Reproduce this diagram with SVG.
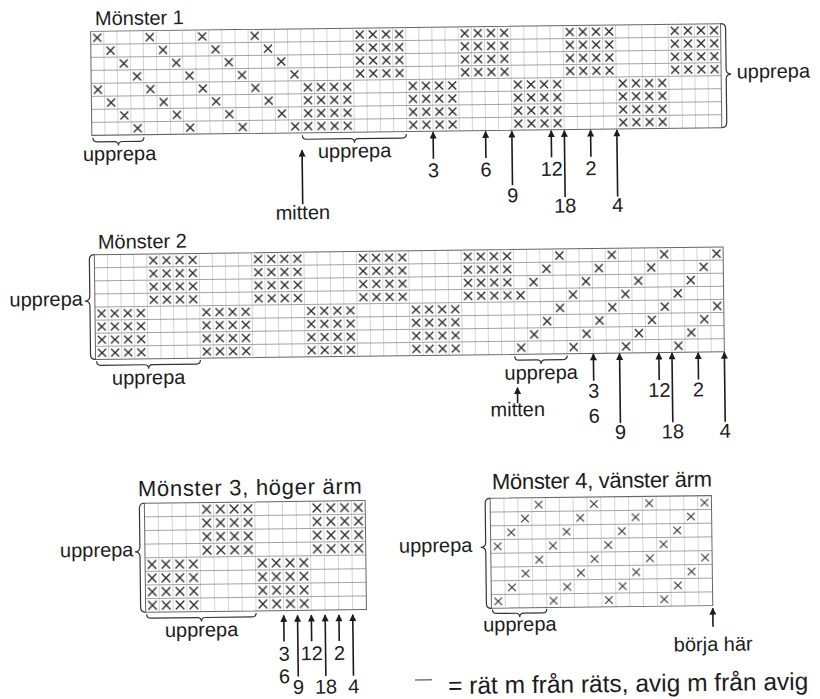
<svg xmlns="http://www.w3.org/2000/svg" width="820" height="699" viewBox="0 0 820 699">
<style>
text{font-family:"Liberation Sans",Arial,Helvetica,sans-serif;fill:#1c1c1c}
.lb{font-size:20px}
.num{font-size:20px;text-anchor:middle}
.mid{text-anchor:middle}
.end{text-anchor:end}
.gv{stroke:#c2c2c2;stroke-width:0.7;fill:none}
.gh{stroke:#8c8c8c;stroke-width:0.8;fill:none}
.gb{fill:none;stroke:#666;stroke-width:1}
.xm{stroke:#262626;stroke-width:1.3;fill:none}
.xt{stroke:#333;stroke-width:1.1;fill:none}
.br{fill:none;stroke:#333;stroke-width:1.2}
.ar{stroke:#1c1c1c;stroke-width:1.6;fill:none;marker-end:url(#ah)}
</style>
<defs>
<marker id="ah" viewBox="0 0 10 10" refX="9" refY="5" markerUnits="userSpaceOnUse" markerWidth="10" markerHeight="7" orient="auto"><path d="M0,0L10,5L0,10z" fill="#1c1c1c"/></marker>
<pattern id="x1" patternUnits="userSpaceOnUse" width="13.125" height="13"><path class="xm" d="M2.56 2.5l8 8m0-8l-8 8"/></pattern>
<pattern id="d1" patternUnits="userSpaceOnUse" width="52.5" height="52"><path class="xm" d="M2.56 2.5l8 8m0-8l-8 8M15.69 15.5l8 8m0-8l-8 8M28.81 28.5l8 8m0-8l-8 8M41.94 41.5l8 8m0-8l-8 8"/></pattern>
<pattern id="x2" patternUnits="userSpaceOnUse" width="13.1" height="13.1"><path class="xm" d="M2.55 2.55l8 8m0-8l-8 8"/></pattern>
<pattern id="d2" patternUnits="userSpaceOnUse" width="52.4" height="52.4"><path class="xm" d="M41.85 2.55l8 8m0-8l-8 8M28.75 15.65l8 8m0-8l-8 8M15.65 28.75l8 8m0-8l-8 8M2.55 41.85l8 8m0-8l-8 8"/></pattern>
<pattern id="x3" patternUnits="userSpaceOnUse" width="13.8" height="13.625"><path class="xm" d="M2.6 2.51l8.6 8.6m0-8.6l-8.6 8.6"/></pattern>
<pattern id="d4" patternUnits="userSpaceOnUse" width="55.32" height="55"><path class="xt" d="M44.6 3.08l7.6 7.6m0-7.6l-7.6 7.6M30.78 16.83l7.6 7.6m0-7.6l-7.6 7.6M16.95 30.58l7.6 7.6m0-7.6l-7.6 7.6M3.12 44.33l7.6 7.6m0-7.6l-7.6 7.6"/></pattern>
</defs>
<rect width="820" height="699" fill="#fff"/>
<g transform="rotate(-0.7 410 350)">

<g id="monster1">
<text x="99" y="21.5" style="font-size:20px">Mönster 1</text>
<g transform="translate(94.5 27.5)">
<path class="gv" d="M13.125 0v104M26.25 0v104M39.375 0v104M52.5 0v104M65.625 0v104M78.75 0v104M91.875 0v104M105 0v104M118.125 0v104M131.25 0v104M144.375 0v104M157.5 0v104M170.625 0v104M183.75 0v104M196.875 0v104M210 0v104M223.125 0v104M236.25 0v104M249.375 0v104M262.5 0v104M275.625 0v104M288.75 0v104M301.875 0v104M315 0v104M328.125 0v104M341.25 0v104M354.375 0v104M367.5 0v104M380.625 0v104M393.75 0v104M406.875 0v104M420 0v104M433.125 0v104M446.25 0v104M459.375 0v104M472.5 0v104M485.625 0v104M498.75 0v104M511.875 0v104M525 0v104M538.125 0v104M551.25 0v104M564.375 0v104M577.5 0v104M590.625 0v104M603.75 0v104M616.875 0v104"/>
<path class="gh" d="M0 13h630M0 26h630M0 39h630M0 52h630M0 65h630M0 78h630M0 91h630"/>
<rect class="gb" x="0" y="0" width="630" height="104"/>
<rect x="0" y="0" width="210" height="104" fill="url(#d1)"/>
<g fill="url(#x1)">
<rect x="262.5" y="0" width="52.5" height="52"/><rect x="367.5" y="0" width="52.5" height="52"/><rect x="472.5" y="0" width="52.5" height="52"/><rect x="577.5" y="0" width="52.5" height="52"/>
<rect x="210" y="52" width="52.5" height="52"/><rect x="315" y="52" width="52.5" height="52"/><rect x="420" y="52" width="52.5" height="52"/><rect x="525" y="52" width="52.5" height="52"/>
</g>
</g>
<path class="br" d="M724.5,27.5 Q729.5,27.5 729.5,32.5 L729.5,73 Q729.5,78 734.5,78 Q729.5,78 729.5,83 L729.5,126.5 Q729.5,131.5 724.5,131.5"/>
<text class="lb" x="740" y="82.5">upprepa</text>
<path class="br" d="M95.5,134 Q95.5,138 99.5,138 L117,138 Q121,138 121,142 Q121,138 125,138 L142.5,138 Q146.5,138 146.5,134"/>
<text class="lb mid" x="122" y="157">upprepa</text>
<path class="br" d="M305,134 Q305,138 309,138 L353,138 Q357,138 357,142 Q357,138 361,138 L405,138 Q409,138 409,134"/>
<text class="lb mid" x="357" y="157">upprepa</text>
<text class="lb mid" x="304.5" y="218">mitten</text>
<text class="num" x="435.75" y="177.5">3</text>
<text class="num" x="488.25" y="177.5">6</text>
<text class="num" x="514.5" y="203.5">9</text>
<text class="num" x="553.9" y="177.5">12</text>
<text class="num" x="567" y="214.5">18</text>
<text class="num" x="593.25" y="177.5">2</text>
<text class="num" x="619.5" y="214.5">4</text>
</g>

<g id="monster2">
<text x="99.2" y="245" style="font-size:20px">Mönster 2</text>
<g transform="translate(95.5 250.8)">
<path class="gv" d="M13.1 0v104.8M26.2 0v104.8M39.3 0v104.8M52.4 0v104.8M65.5 0v104.8M78.6 0v104.8M91.7 0v104.8M104.8 0v104.8M117.9 0v104.8M131 0v104.8M144.1 0v104.8M157.2 0v104.8M170.3 0v104.8M183.4 0v104.8M196.5 0v104.8M209.6 0v104.8M222.7 0v104.8M235.8 0v104.8M248.9 0v104.8M262 0v104.8M275.1 0v104.8M288.2 0v104.8M301.3 0v104.8M314.4 0v104.8M327.5 0v104.8M340.6 0v104.8M353.7 0v104.8M366.8 0v104.8M379.9 0v104.8M393 0v104.8M406.1 0v104.8M419.2 0v104.8M432.3 0v104.8M445.4 0v104.8M458.5 0v104.8M471.6 0v104.8M484.7 0v104.8M497.8 0v104.8M510.9 0v104.8M524 0v104.8M537.1 0v104.8M550.2 0v104.8M563.3 0v104.8M576.4 0v104.8M589.5 0v104.8M602.6 0v104.8M615.7 0v104.8"/>
<path class="gh" d="M0 13.1h628.8M0 26.2h628.8M0 39.3h628.8M0 52.4h628.8M0 65.5h628.8M0 78.6h628.8M0 91.7h628.8"/>
<rect class="gb" x="0" y="0" width="628.8" height="104.8"/>
<rect x="419.2" y="0" width="209.6" height="104.8" fill="url(#d2)"/>
<g fill="url(#x2)">
<rect x="52.4" y="0" width="52.4" height="52.4"/><rect x="157.2" y="0" width="52.4" height="52.4"/><rect x="262" y="0" width="52.4" height="52.4"/><rect x="366.8" y="0" width="52.4" height="52.4"/>
<rect x="0" y="52.4" width="52.4" height="52.4"/><rect x="104.8" y="52.4" width="52.4" height="52.4"/><rect x="209.6" y="52.4" width="52.4" height="52.4"/><rect x="314.4" y="52.4" width="52.4" height="52.4"/>
</g>
</g>
<path class="br" d="M95.5,250.8 Q90.5,250.8 90.5,255.8 L90.5,292.2 Q90.5,297.2 85.5,297.2 Q90.5,297.2 90.5,302.2 L90.5,350.6 Q90.5,355.6 95.5,355.6"/>
<text class="lb end" x="83.5" y="301.7">upprepa</text>
<path class="br" d="M96.5,357.5 Q96.5,361.5 100.5,361.5 L144.4,361.5 Q148.4,361.5 148.4,365.5 Q148.4,361.5 152.4,361.5 L196.3,361.5 Q200.3,361.5 200.3,357.5"/>
<text class="lb mid" x="148.4" y="381">upprepa</text>
<path class="br" d="M514.7,357.5 Q514.7,361.5 518.7,361.5 L536.9,361.5 Q540.9,361.5 540.9,365.5 Q540.9,361.5 544.9,361.5 L563.1,361.5 Q567.1,361.5 567.1,357.5"/>
<text class="lb mid" x="540.9" y="381">upprepa</text>
<text class="lb mid" x="517" y="417.5">mitten</text>
<text class="num" x="593.3" y="400">3</text>
<text class="num" x="593.3" y="425">6</text>
<text class="num" x="619.5" y="441.5">9</text>
<text class="num" x="658.8" y="400">12</text>
<text class="num" x="671.9" y="441.5">18</text>
<text class="num" x="698.1" y="400">2</text>
<text class="num" x="724.3" y="441.5">4</text>
</g>

<g id="monster3">
<text x="136.2" y="493" style="font-size:22px" textLength="224">Mönster 3, höger ärm</text>
<g transform="translate(142.5 500)">
<path class="gv" d="M13.8 0v109M27.6 0v109M41.4 0v109M55.2 0v109M69 0v109M82.8 0v109M96.6 0v109M110.4 0v109M124.2 0v109M138 0v109M151.8 0v109M165.6 0v109M179.4 0v109M193.2 0v109M207 0v109"/>
<path class="gh" d="M0 13.625h220.8M0 27.25h220.8M0 40.875h220.8M0 54.5h220.8M0 68.125h220.8M0 81.75h220.8M0 95.375h220.8"/>
<rect class="gb" x="0" y="0" width="220.8" height="109"/>
<g fill="url(#x3)">
<rect x="55.2" y="0" width="55.2" height="54.5"/><rect x="165.6" y="0" width="55.2" height="54.5"/>
<rect x="0" y="54.5" width="55.2" height="54.5"/><rect x="110.4" y="54.5" width="55.2" height="54.5"/>
</g>
</g>
<path class="br" d="M142.5,500 Q137.5,500 137.5,505 L137.5,543.5 Q137.5,548.5 132.5,548.5 Q137.5,548.5 137.5,553.5 L137.5,604 Q137.5,609 142.5,609"/>
<text class="lb end" x="131" y="553">upprepa</text>
<path class="br" d="M143.5,611 Q143.5,615 147.5,615 L194.2,615 Q198.2,615 198.2,619 Q198.2,615 202.2,615 L248.9,615 Q252.9,615 252.9,611"/>
<text class="lb mid" x="198.2" y="634">upprepa</text>
<text class="num" x="280.5" y="659">3</text>
<text class="num" x="280.5" y="681.5">6</text>
<text class="num" x="294.3" y="692.5">9</text>
<text class="num" x="308.1" y="659">12</text>
<text class="num" x="321.9" y="692.5">18</text>
<text class="num" x="335.7" y="659">2</text>
<text class="num" x="349.5" y="692.5">4</text>
</g>

<g id="monster4">
<text x="490.3" y="490.3" style="font-size:22px" textLength="220">Mönster 4, vänster ärm</text>
<g transform="translate(488.3 499.3)">
<path class="gv" d="M13.83 0v110M27.66 0v110M41.49 0v110M55.32 0v110M69.15 0v110M82.98 0v110M96.81 0v110M110.64 0v110M124.47 0v110M138.3 0v110M152.13 0v110M165.96 0v110M179.79 0v110M193.62 0v110M207.45 0v110"/>
<path class="gh" d="M0 13.75h221.28M0 27.5h221.28M0 41.25h221.28M0 55h221.28M0 68.75h221.28M0 82.5h221.28M0 96.25h221.28"/>
<rect class="gb" x="0" y="0" width="221.28" height="110"/>
<rect x="0" y="0" width="221.28" height="110" fill="url(#d4)"/>
</g>
<path class="br" d="M488.3,499.3 Q483.3,499.3 483.3,504.3 L483.3,543.3 Q483.3,548.3 478.3,548.3 Q483.3,548.3 483.3,553.3 L483.3,604.3 Q483.3,609.3 488.3,609.3"/>
<text class="lb end" x="470" y="552.5">upprepa</text>
<path class="br" d="M489.3,610.5 Q489.3,614.5 493.3,614.5 L512.5,614.5 Q516.5,614.5 516.5,618.5 Q516.5,614.5 520.5,614.5 L539.6,614.5 Q543.6,614.5 543.6,610.5"/>
<text class="lb mid" x="516.5" y="632.3">upprepa</text>
<text class="lb mid" x="709.6" y="654.7">börja här</text>
</g>

<g id="arrows">
<path class="ar" d="M304.5,203V149"/>
<path class="ar" d="M435.75,159V132.5"/>
<path class="ar" d="M488.25,159V132.5"/>
<path class="ar" d="M514.5,186.5V132.5"/>
<path class="ar" d="M553.9,159V132.5"/>
<path class="ar" d="M567,199V132.5"/>
<path class="ar" d="M593.25,159V132.5"/>
<path class="ar" d="M619.5,199V132.5"/>
<path class="ar" d="M517,404.5V389"/>
<path class="ar" d="M593.3,383V356.2"/>
<path class="ar" d="M619.5,425.5V356.2"/>
<path class="ar" d="M658.8,383V356.2"/>
<path class="ar" d="M671.9,425.5V356.2"/>
<path class="ar" d="M698.1,383V356.2"/>
<path class="ar" d="M724.3,425.5V356.2"/>
<path class="ar" d="M280.5,640V614"/>
<path class="ar" d="M294.3,675V614"/>
<path class="ar" d="M308.1,640V614"/>
<path class="ar" d="M321.9,675V614"/>
<path class="ar" d="M335.7,640V614"/>
<path class="ar" d="M349.5,675V614"/>
<path class="ar" d="M709.6,630.5V612"/>
</g>

<g id="legend">
<path d="M411,680H428" stroke="#777" stroke-width="1.5" fill="none"/>
<text x="444" y="694.5" style="font-size:24.5px">= rät m från räts, avig m från avig</text>
</g>
</g>
</svg>
